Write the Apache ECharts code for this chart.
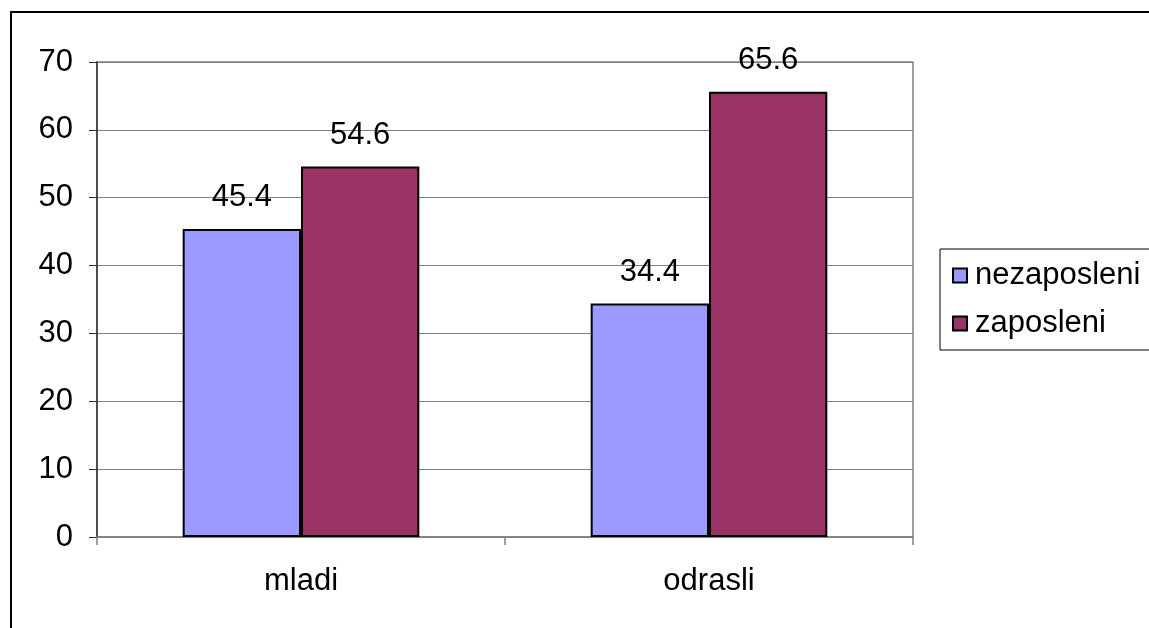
<!DOCTYPE html>
<html>
<head>
<meta charset="utf-8">
<script src="https://cdn.jsdelivr.net/npm/echarts@6/dist/echarts.min.js"></script>
<style>
html,body{margin:0;padding:0;background:#fff;}
#chart{width:1149px;height:628px;}
</style>
</head>
<body>
<div id="chart"></div>
<script>
const categories = ['mladi', 'odrasli'];
const seriesNames = ['nezaposleni', 'zaposleni'];
const nezaposleni = [45.4, 34.4];
const zaposleni = [54.6, 65.6];
const yTicks = [0, 10, 20, 30, 40, 50, 60, 70];

const font = 'Liberation Sans, Arial, sans-serif';
const FS = 31;
const chart = echarts.init(document.getElementById('chart'));
chart.setOption({
  animation: false,
  backgroundColor: '#fff',
  graphic: [{
    type: 'rect',
    shape: { x: 11, y: 12, width: 1300, height: 800 },
    style: { fill: 'none', stroke: '#000', lineWidth: 2 },
    silent: true, z: 100
  }],
  grid: {
    left: 97, top: 62, right: 236, bottom: 91,
    show: true, borderColor: '#808080', borderWidth: 1.5, backgroundColor: '#fff'
  },
  legend: {
    orient: 'vertical',
    left: 940, top: 249,
    padding: [11, 40, 11, 12],
    borderColor: '#000', borderWidth: 1,
    itemWidth: 14, itemHeight: 14, itemGap: 17,
    icon: 'rect',
    textStyle: { fontFamily: font, fontSize: FS, color: '#000', lineHeight: 31, padding: [0, 0, 0, 3] },
    data: seriesNames
  },
  xAxis: {
    type: 'category',
    data: categories,
    axisLine: { show: true, lineStyle: { color: '#808080', width: 1.5 } },
    axisTick: { show: true, length: 8, alignWithLabel: false, lineStyle: { color: '#808080', width: 1.5 } },
    axisLabel: { fontFamily: font, fontSize: FS, color: '#000', margin: 29 },
    splitLine: { show: false }
  },
  yAxis: {
    type: 'value',
    min: 0, max: 70, interval: 10,
    axisLine: { show: true, lineStyle: { color: '#333', width: 1.5 } },
    axisTick: { show: true, length: 8, lineStyle: { color: '#333', width: 1 } },
    axisLabel: { fontFamily: font, fontSize: FS, color: '#000', margin: 24,
      formatter: v => yTicks.includes(v) ? String(v) : '' },
    splitLine: { show: true, lineStyle: { color: '#808080', width: 1 } }
  },
  series: [
    {
      name: seriesNames[0], type: 'bar', data: nezaposleni,
      barGap: '0%', barCategoryGap: '42%',
      itemStyle: { color: '#9999FF', borderColor: '#000', borderWidth: 2 },
      label: { show: true, position: 'top', distance: 16, fontFamily: font, fontSize: FS, color: '#000',
        formatter: p => p.value.toFixed(1) }
    },
    {
      name: seriesNames[1], type: 'bar', data: zaposleni,
      barGap: '0%', barCategoryGap: '42%',
      itemStyle: { color: '#993366', borderColor: '#000', borderWidth: 2 },
      label: { show: true, position: 'top', distance: 16, fontFamily: font, fontSize: FS, color: '#000',
        formatter: p => p.value.toFixed(1) }
    }
  ]
});
</script>
</body>
</html>
